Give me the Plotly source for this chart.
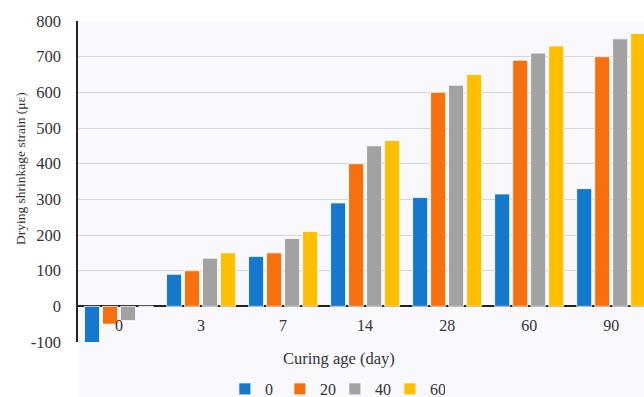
import plotly.graph_objects as go

categories = ["0", "3", "7", "14", "28", "60", "90"]
series_names = ["0", "20", "40", "60"]
s0 = [-105, 90, 140, 290, 305, 315, 330]
s20 = [-50, 100, 150, 400, 600, 690, 700]
s40 = [-40, 135, 190, 450, 620, 710, 750]
s60 = [0, 150, 210, 465, 650, 730, 765]
colors = ["#1478cc", "#f8700e", "#a2a2a2", "#ffbe00"]
y_ticks = [-100, 0, 100, 200, 300, 400, 500, 600, 700, 800]
y_tick_text = ["-100", "0", "100", "200", "300", "400", "500", "600", "700", "800"]

fig = go.Figure()
for name, vals, col in zip(series_names, [s0, s20, s40, s60], colors):
    fig.add_trace(go.Bar(
        x=categories, y=vals, name=name,
        marker=dict(color=col, line=dict(color="white", width=0.8)),
    ))

W, H = 644, 397
ml, mr, mt, mb = 78, 0, 21, 55
ph = H - mt - mb
bg = "#f9f9fd"

fig.update_layout(
    width=W, height=H,
    margin=dict(l=ml, r=mr, t=mt, b=mb, pad=0, autoexpand=False),
    paper_bgcolor="white", plot_bgcolor=bg,
    barmode="group", bargap=0.122, bargroupgap=0.167,
    font=dict(family="Liberation Serif", size=16, color="#333333"),
    showlegend=True,
    legend=dict(orientation="h", x=0.52, xanchor="center", xref="container",
                y=8 / H, yanchor="middle", yref="container",
                font=dict(family="Liberation Serif", size=16, color="#333333"),
                itemwidth=30, entrywidth=10, entrywidthmode="pixels",
                bgcolor="rgba(0,0,0,0)", traceorder="normal"),
    xaxis=dict(type="category", range=[-0.5, 6.4], anchor="free",
               position=100 / 900, showgrid=False, showline=False,
               ticks="", ticklabelstandoff=8, automargin=False,
               tickfont=dict(family="Liberation Serif", size=16, color="#333333")),
    yaxis=dict(range=[-100, 800], tickvals=y_ticks, ticktext=y_tick_text,
               showgrid=True, gridcolor="#d6d6d6", gridwidth=1.2,
               zeroline=True, zerolinecolor="#222222", zerolinewidth=2,
               showline=True, linecolor="#2a2222", linewidth=1.5,
               ticks="", ticklabelstandoff=12, automargin=False,
               tickfont=dict(family="Liberation Serif", size=16.5, color="#333333")),
    shapes=[dict(type="rect", xref="paper", yref="paper", x0=0, x1=1,
                 y0=-mb / ph, y1=0, fillcolor=bg, line=dict(width=0), layer="below")],
    annotations=[
        dict(text="Curing age (day)", xref="paper", yref="paper",
             x=(339 - ml) / (W - ml - mr), y=-(358 - (mt + ph)) / ph,
             showarrow=False, xanchor="center", yanchor="middle",
             font=dict(family="Liberation Serif", size=16.5, color="#333333")),
        dict(text="Drying shrinkage strain (με)", xref="paper", yref="paper",
             x=-(ml - 20) / (W - ml - mr), y=(mt + ph - 168) / ph, textangle=-90,
             showarrow=False, xanchor="center", yanchor="middle",
             font=dict(family="Liberation Serif", size=13.5, color="#333333")),
    ],
)

fig.write_html("out.html", config={"displayModeBar": False},
               post_script="document.body.style.margin='0';document.body.style.overflow='hidden';")
